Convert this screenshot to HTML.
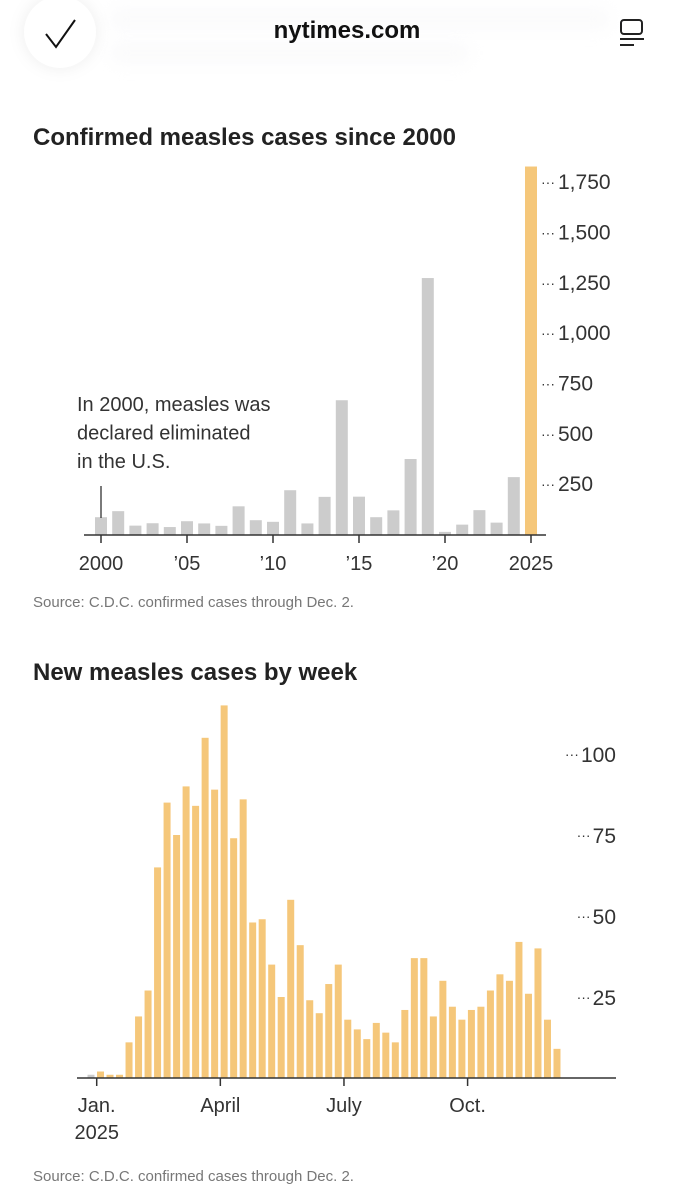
<!DOCTYPE html>
<html><head><meta charset="utf-8">
<style>
body{margin:0;width:693px;height:1200px;background:#fff;overflow:hidden;font-family:"Liberation Sans",sans-serif;}
svg{position:absolute;left:0;top:0}
</style></head>
<body>
<svg width="693" height="1200">
  <g>
    <rect x="110" y="8" width="500" height="22" fill="#f4f4f6" opacity="0.4" rx="8" style="filter:blur(8px)"/>
    <rect x="110" y="42" width="360" height="22" fill="#f4f4f6" opacity="0.4" rx="8" style="filter:blur(8px)"/>
    <circle cx="60" cy="32" r="36" fill="#fff" style="filter:drop-shadow(0 0 8px rgba(0,0,0,0.07))"/>
    <path d="M46 34 L56 47 L75 20" fill="none" stroke="#111" stroke-width="2"/>
    <text x="347" y="38" text-anchor="middle" font-size="24" font-weight="bold" fill="#111">nytimes.com</text>
    <g stroke="#222" stroke-width="2" fill="none">
      <rect x="621" y="20" width="21" height="14" rx="3"/>
      <line x1="620" y1="39" x2="644" y2="39"/>
      <line x1="620" y1="45" x2="634" y2="45"/>
    </g>
  </g>
  <text x="33" y="145" font-size="24" font-weight="bold" fill="#222">Confirmed measles cases since 2000</text>
  <g id="c1"></g>
  <text x="33" y="607" font-size="15" fill="#777">Source: C.D.C. confirmed cases through Dec. 2.</text>
  <text x="33" y="680" font-size="24" font-weight="bold" fill="#222">New measles cases by week</text>
  <g id="c2"></g>
  <text x="33" y="1181" font-size="15" fill="#777">Source: C.D.C. confirmed cases through Dec. 2.</text>
</svg>
<script>
const years=[2000,2001,2002,2003,2004,2005,2006,2007,2008,2009,2010,2011,2012,2013,2014,2015,2016,2017,2018,2019,2020,2021,2022,2023,2024,2025];
const annualCases=[86,116,44,56,37,66,55,43,140,71,63,220,55,187,667,188,86,120,375,1274,13,49,121,59,285,1828];
const annualTicks=[250,500,750,1000,1250,1500,1750];
const annualTickLabels=["250","500","750","1,000","1,250","1,500","1,750"];
const xTickYears=[2000,2005,2010,2015,2020,2025];
const xTickLabels=["2000","’05","’10","’15","’20","2025"];

const weeklyCases=[1,2,1,1,11,19,27,65,85,75,90,84,105,89,115,74,86,48,49,35,25,55,41,24,20,29,35,18,15,12,17,14,11,21,37,37,19,30,22,18,21,22,27,32,30,42,26,40,18,9];
const weeklyTicks=[25,50,75,100];
const monthTickWeeks=[0.6,13.6,26.6,39.6];
const monthTickLabels=["Jan.","April","July","Oct."];

const NS="http://www.w3.org/2000/svg";
function mk(tag,attrs,parent,txt){const e=document.createElementNS(NS,tag);for(const k in attrs)e.setAttribute(k,attrs[k]);if(txt!==undefined)e.textContent=txt;parent.appendChild(e);return e;}

// chart 1
const c1=document.getElementById('c1');
const x1=y=>101+(y-2000)*17.2;
const y1=v=>534.5-v*0.2013;
annualCases.forEach((v,i)=>{
  const r=mk('rect',{x:x1(years[i])-6,y:y1(v),width:12,height:534.5-y1(v),fill:years[i]===2025?'#f5c77a':'#cccccc'},c1);
  
  
});
annualTicks.forEach((t,i)=>{
  const d=mk('text',{x:541,y:y1(t)+5,'font-size':14,fill:'#333'},c1,'···');
  
  
  const tx=mk('text',{x:558,y:y1(t)+7,'font-size':21,fill:'#333'},c1,annualTickLabels[i]);
  
  
});
const ax1=mk('line',{x1:84,x2:546,y1:535,y2:535,stroke:'#333','stroke-width':1.5},c1);


xTickYears.forEach((yy,i)=>{
  mk('line',{x1:x1(yy),x2:x1(yy),y1:535,y2:543,stroke:'#333','stroke-width':1.5},c1);
  const tx=mk('text',{x:x1(yy),y:570,'font-size':20,fill:'#333','text-anchor':'middle'},c1,xTickLabels[i]);
  
  
});
const ann=mk('g',{},c1);


["In 2000, measles was","declared eliminated","in the U.S."].forEach((s,i)=>mk('text',{x:77,y:411+i*28.5,'font-size':20,fill:'#333'},ann,s));
mk('line',{x1:x1(2000),x2:x1(2000),y1:486,y2:518,stroke:'#333','stroke-width':1.3},ann);

// chart 2
const c2=document.getElementById('c2');
const x2=w=>91+w*9.51;
const y2=v=>1078-v*3.24;
weeklyCases.forEach((v,i)=>{
  const r=mk('rect',{x:x2(i)-3.5,y:y2(v),width:7,height:1078-y2(v),fill:i===0?'#cccccc':'#f5c77a'},c2);
  
  
});
weeklyTicks.forEach(t=>{
  const tx=mk('text',{x:616,y:y2(t)+8,'font-size':21,fill:'#333','text-anchor':'end'},c2,String(t));
  
  
  const w=String(t).length*11.7;
  const d=mk('text',{x:616-w-2,y:y2(t)+5,'font-size':14,fill:'#333','text-anchor':'end'},c2,'···');
  
  
});
const ax2=mk('line',{x1:77,x2:616,y1:1078,y2:1078,stroke:'#333','stroke-width':1.5},c2);


monthTickWeeks.forEach((w,i)=>{
  mk('line',{x1:x2(w),x2:x2(w),y1:1078,y2:1086,stroke:'#333','stroke-width':1.5},c2);
  const tx=mk('text',{x:x2(w),y:1112,'font-size':20,fill:'#333','text-anchor':'middle'},c2,monthTickLabels[i]);
  
  
});
const yr=mk('text',{x:x2(0.6),y:1139,'font-size':20,fill:'#333','text-anchor':'middle'},c2,'2025');


</script>
</body></html>
